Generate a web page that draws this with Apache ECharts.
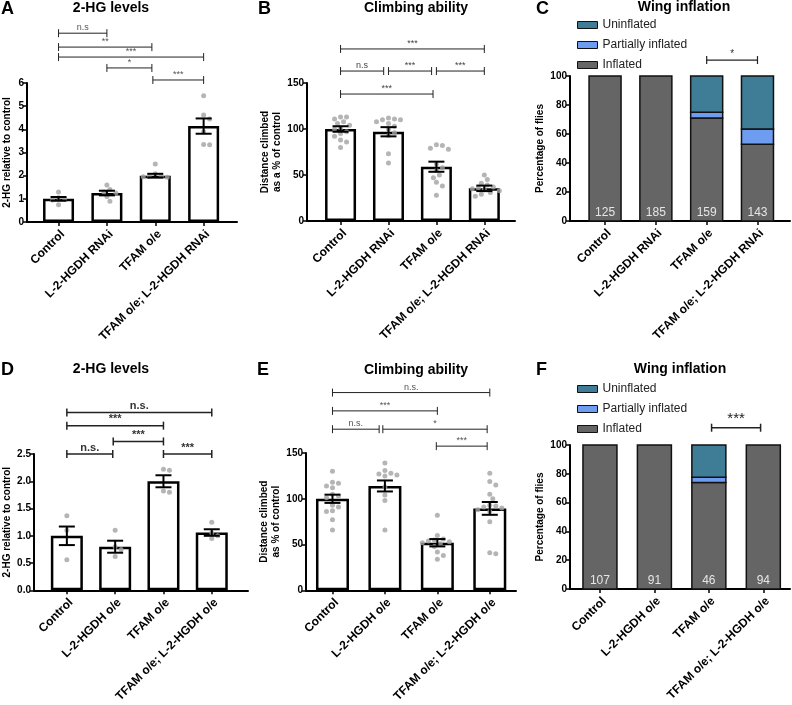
<!DOCTYPE html>
<html>
<head>
<meta charset="utf-8">
<script src="https://cdn.jsdelivr.net/npm/echarts@6/dist/echarts.min.js"></script>
<style>
  html, body { margin: 0; padding: 0; background: #fff; }
  #chart { width: 792px; height: 705px; }
</style>
</head>
<body>
<div id="chart"></div>
<script>
// ---------------- data ----------------
var groupsRNAi = ['Control', 'L-2-HGDH RNAi', 'TFAM o/e', 'TFAM o/e; L-2-HGDH RNAi'];
var groupsOE = ['Control', 'L-2-HGDH o/e', 'TFAM o/e', 'TFAM o/e; L-2-HGDH o/e'];

// A - 2-HG levels (RNAi)
var hgA_mean = [1.0, 1.25, 2.0, 4.14];
var hgA_sem = [0.08, 0.1, 0.08, 0.33];
var hgA_points = [
  [1.3, 1.05, 1.0, 0.95, 0.75],
  [1.6, 1.4, 1.3, 1.25, 1.1, 0.9],
  [2.5, 2.08, 1.98, 1.95, 1.93, 1.95],
  [5.45, 4.62, 4.45, 3.9, 3.35, 3.33]
];
var hgA_sig = [[0, 1, 8.15], [0, 1.93, 7.55], [0, 3, 7.12], [1, 1.93, 6.65], [1.95, 3, 6.13]];
var hgA_sigText = ['n.s', '**', '***', '*', '***'];

// B - climbing (RNAi)
var climbB_mean = [100, 97, 59, 35.5];
var climbB_sem = [3, 5, 5.5, 3];
var climbB_points = [
  [113, 113, 111, 108, 106, 104, 101, 100, 97, 95, 92, 88, 86, 80],
  [112, 111, 110, 110, 108, 106, 103, 100, 96, 93, 73, 63],
  [83, 82, 79, 78, 62, 58, 55, 50, 47, 42, 38, 28],
  [50, 45, 41, 39, 37, 36, 35, 34, 33, 31, 29, 27]
];
var climbB_sig = [[0, 3, 187], [0, 0.9, 163], [1, 1.9, 163], [2, 3, 163], [0, 1.93, 138]];
var climbB_sigText = ['***', 'n.s', '***', '***', '***'];

// C - wing inflation (RNAi), percent of flies
var wingC_inflated = [100, 100, 71, 53];
var wingC_partial = [0, 0, 4, 10.4];
var wingC_uninflated = [0, 0, 25, 36.6];
var wingC_n = [125, 185, 159, 143];
var wingC_sig = [[2, 3, 111]];
var wingC_sigText = ['*'];

// D - 2-HG levels (o/e)
var hgD_mean = [1.0, 0.8, 2.0, 1.06];
var hgD_sem = [0.17, 0.11, 0.11, 0.06];
var hgD_points = [
  [1.37, 1.1, 0.56],
  [1.1, 0.8, 0.75, 0.62],
  [2.22, 2.2, 1.82, 1.8],
  [1.25, 1.05, 1.0, 0.95]
];
var hgD_sig = [[0, 3, 3.26], [0, 2, 3.02], [0.96, 2, 2.73], [0, 0.95, 2.5], [2, 3, 2.5]];
var hgD_sigText = ['n.s.', '***', '***', 'n.s.', '***'];

// E - climbing (o/e)
var climbE_mean = [100, 114, 52, 89.5];
var climbE_sem = [4.5, 6, 4, 7];
var climbE_points = [
  [130, 118, 117, 114, 112, 105, 103, 101, 93, 91, 87, 86, 77, 66],
  [139, 131, 128, 127, 126, 125, 113, 104, 98, 66],
  [82, 60, 56, 55, 54, 53, 52, 51, 48, 42, 38, 34],
  [128, 119, 115, 105, 100, 93, 92, 91, 90, 88, 86, 75, 41, 40]
];
var climbE_sig = [[0, 3, 216], [0, 2, 196], [0, 0.89, 176], [0.96, 2.95, 176], [1.98, 2.95, 157.5]];
var climbE_sigText = ['n.s.', '***', 'n.s.', '*', '***'];

// F - wing inflation (o/e)
var wingF_inflated = [100, 100, 74, 100];
var wingF_partial = [0, 0, 3.6, 0];
var wingF_uninflated = [0, 0, 22.4, 0];
var wingF_n = [107, 91, 46, 94];
var wingF_sig = [[2.05, 2.95, 112]];
var wingF_sigText = ['***'];

// ---------------- layout ----------------
var FONT = '"Liberation Sans", Arial, sans-serif';
var colInflated = '#656565', colPartial = '#6e9cf0', colUninflated = '#3f7c96';

var panels = [
  { kind: 'bar', letter: 'A', lx: 1, ly: 0, title: '2-HG levels', tx: 111, ty: 1,
    grid: { left: 27, top: 83, width: 210, height: 139 }, xMin: -0.652, xMax: 3.69,
    yMax: 6, yInt: 1, barW: 31, cats: groupsRNAi, yName: '2-HG relative to control', nameGap: 14,
    mean: hgA_mean, sem: hgA_sem, points: hgA_points, sig: hgA_sig, sigText: hgA_sigText,
    sigStyle: { fontSize: 9, fontWeight: 'normal', fill: '#555' }, sigW: 1 },
  { kind: 'bar', letter: 'B', lx: 258, ly: 0, title: 'Climbing ability', tx: 416, ty: 1,
    grid: { left: 307, top: 83, width: 208, height: 138 }, xMin: -0.70, xMax: 3.64,
    yMax: 150, yInt: 50, barW: 31, cats: groupsRNAi, yName: 'Distance climbed\nas a % of control', nameGap: 24,
    mean: climbB_mean, sem: climbB_sem, points: climbB_points, sig: climbB_sig, sigText: climbB_sigText,
    sigStyle: { fontSize: 9, fontWeight: 'normal', fill: '#444' }, sigW: 1 },
  { kind: 'wing', letter: 'C', lx: 536, ly: 0, title: 'Wing inflation', tx: 684, ty: 0,
    grid: { left: 570, top: 76, width: 220, height: 145 }, xMin: -0.69, xMax: 3.64,
    yMax: 100, yInt: 20, barW: 32, cats: groupsRNAi, yName: 'Percentage of flies', nameGap: 18,
    inflated: wingC_inflated, partial: wingC_partial, uninflated: wingC_uninflated, n: wingC_n,
    sig: wingC_sig, sigText: wingC_sigText, legendTop: 14,
    sigStyle: { fontSize: 10, fontWeight: 'normal', fill: '#333' }, sigW: 1.2 },
  { kind: 'bar', letter: 'D', lx: 1, ly: 361, title: '2-HG levels', tx: 111, ty: 362,
    grid: { left: 33, top: 454, width: 215, height: 139 }, xMin: -0.68, xMax: 3.75,
    yMax: 2.5, yInt: 0.5, barW: 32, cats: groupsOE, yName: '2-HG relative to control', nameGap: 21,
    mean: hgD_mean, sem: hgD_sem, points: hgD_points, sig: hgD_sig, sigText: hgD_sigText,
    sigStyle: { fontSize: 11, fontWeight: 'bold', fill: '#333' }, sigW: 1.5 },
  { kind: 'bar', letter: 'E', lx: 257, ly: 361, title: 'Climbing ability', tx: 416, ty: 363,
    grid: { left: 306, top: 453, width: 210, height: 139 }, xMin: -0.505, xMax: 3.50,
    yMax: 150, yInt: 50, barW: 33, cats: groupsOE, yName: 'Distance climbed\nas % of control', nameGap: 24,
    mean: climbE_mean, sem: climbE_sem, points: climbE_points, sig: climbE_sig, sigText: climbE_sigText,
    sigStyle: { fontSize: 9, fontWeight: 'normal', fill: '#555' }, sigW: 1 },
  { kind: 'wing', letter: 'F', lx: 536, ly: 361, title: 'Wing inflation', tx: 680, ty: 362,
    grid: { left: 570, top: 445, width: 220, height: 144 }, xMin: -0.55, xMax: 3.49,
    yMax: 100, yInt: 20, barW: 34, cats: groupsOE, yName: 'Percentage of flies', nameGap: 24,
    inflated: wingF_inflated, partial: wingF_partial, uninflated: wingF_uninflated, n: wingF_n,
    sig: wingF_sig, sigText: wingF_sigText, legendTop: 378,
    sigStyle: { fontSize: 15, fontWeight: 'normal', fill: '#222' }, sigW: 1.5 }
];

// spread dots sideways so they don't overlap (beeswarm, in pixels)
function swarm(vals, pxX, pxY) {
  var placed = [], out = [], d = 5.2;
  vals.forEach(function (v) {
    var y = v * pxY, off = 0;
    for (var k = 0; k < 40; k++) {
      var cand = (k % 2 ? 1 : -1) * Math.ceil(k / 2) * 3;
      var ok = placed.every(function (p) {
        var dx = p[0] - cand, dy = p[1] - y;
        return dx * dx + dy * dy >= d * d;
      });
      if (ok) { off = cand; break; }
    }
    placed.push([off, y]);
    out.push(off / pxX);
  });
  return out;
}

var option = {
  animation: false,
  backgroundColor: '#fff',
  textStyle: { fontFamily: FONT },
  grid: [], xAxis: [], yAxis: [], series: [], legend: [], graphic: []
};

panels.forEach(function (P, i) {
  option.grid.push(P.grid);
  option.xAxis.push({
    gridIndex: i, type: 'value', min: P.xMin, max: P.xMax,
    splitLine: { show: false },
    axisLine: { onZero: false, lineStyle: { color: '#000', width: 2 } },
    axisTick: { customValues: [0, 1, 2, 3], length: 4, lineStyle: { color: '#000', width: 1.5 } },
    axisLabel: {
      customValues: [0, 1, 2, 3], rotate: 45, margin: 6, verticalAlign: 'top',
      fontFamily: FONT, fontWeight: 'bold', fontSize: 12, color: '#000',
      formatter: function (v) { return P.cats[Math.round(v)]; }
    }
  });
  option.yAxis.push({
    gridIndex: i, type: 'value', min: 0, max: P.yMax, interval: P.yInt,
    name: P.yName, nameLocation: 'middle', nameGap: P.nameGap,
    nameTextStyle: { fontFamily: FONT, fontWeight: 'bold', fontSize: 10, color: '#000', lineHeight: 12 },
    splitLine: { show: false },
    axisLine: { show: true, onZero: false, lineStyle: { color: '#000', width: 2 } },
    axisTick: { show: true, length: 4, lineStyle: { color: '#000', width: 1.5 } },
    axisLabel: {
      fontFamily: FONT, fontWeight: 'bold', fontSize: 10, color: '#000', margin: 3,
      formatter: function (v) { return P.yInt < 1 ? v.toFixed(1) : String(v); }
    }
  });

  option.graphic.push({
    type: 'text', x: P.lx, y: P.ly, z: 10,
    style: { text: P.letter, fontFamily: FONT, fontWeight: 'bold', fontSize: 18, fill: '#000' }
  });
  option.graphic.push({
    type: 'text', x: P.tx, y: P.ty, z: 10,
    style: { text: P.title, align: 'center', textAlign: 'center', fontFamily: FONT, fontWeight: 'bold', fontSize: 14, fill: '#000' }
  });

  var pxX = P.grid.width / (P.xMax - P.xMin), pxY = P.grid.height / P.yMax;

  if (P.kind === 'bar') {
    option.series.push({
      type: 'bar', xAxisIndex: i, yAxisIndex: i, barWidth: P.barW, z: 2,
      itemStyle: { color: '#fff', borderColor: '#000', borderWidth: 2.5 },
      data: P.mean.map(function (m, k) { return [k, m]; })
    });
    var dots = [];
    P.points.forEach(function (vals, k) {
      var offs = swarm(vals, pxX, pxY);
      vals.forEach(function (v, j) { dots.push([k + offs[j], v]); });
    });
    option.series.push({
      type: 'scatter', xAxisIndex: i, yAxisIndex: i, z: 3, symbolSize: 5,
      itemStyle: { color: '#a3a3a3' }, data: dots
    });
    option.series.push({
      type: 'custom', xAxisIndex: i, yAxisIndex: i, z: 4, clip: false,
      encode: { x: 0, y: [1, 2] },
      data: P.mean.map(function (m, k) { return [k, m - P.sem[k], m + P.sem[k]]; }),
      renderItem: function (params, api) {
        var lo = api.coord([api.value(0), api.value(1)]);
        var hi = api.coord([api.value(0), api.value(2)]);
        var hw = 8, st = { stroke: '#000', lineWidth: 2 };
        return { type: 'group', children: [
          { type: 'line', shape: { x1: lo[0], y1: lo[1], x2: hi[0], y2: hi[1] }, style: st },
          { type: 'line', shape: { x1: hi[0] - hw, y1: hi[1], x2: hi[0] + hw, y2: hi[1] }, style: st },
          { type: 'line', shape: { x1: lo[0] - hw, y1: lo[1], x2: lo[0] + hw, y2: lo[1] }, style: st }
        ] };
      }
    });
  } else {
    // stacked segments: each segment drawn from its running base
    var segs = [
      { name: 'Inflated', vals: P.inflated, color: colInflated },
      { name: 'Partially inflated', vals: P.partial, color: colPartial },
      { name: 'Uninflated', vals: P.uninflated, color: colUninflated }
    ];
    var base = [0, 0, 0, 0];
    segs.forEach(function (s, si) {
      var rows = s.vals.map(function (v, k) { var r = [k, base[k], base[k] + v]; base[k] += v; return r; });
      option.series.push({
        name: s.name, type: 'custom', xAxisIndex: i, yAxisIndex: i, z: 2 + si * 0.1, clip: false,
        itemStyle: { color: s.color },
        encode: { x: 0, y: [1, 2] },
        data: rows,
        renderItem: function (params, api) {
          var lo = api.coord([api.value(0), api.value(1)]);
          var hi = api.coord([api.value(0), api.value(2)]);
          if (hi[1] >= lo[1] - 0.01) return null;
          var w = P.barW;
          var kids = [{
            type: 'rect',
            shape: { x: lo[0] - w / 2, y: hi[1], width: w, height: lo[1] - hi[1] },
            style: { fill: s.color, stroke: '#111', lineWidth: 1.5 }
          }];
          if (si === 0) {
            kids.push({ type: 'text', style: {
              x: lo[0], y: lo[1] - 2, text: String(P.n[params.dataIndex]),
              align: 'center', verticalAlign: 'bottom',
              fontFamily: FONT, fontSize: 12, fill: '#e6e6e6'
            } });
          }
          return { type: 'group', children: kids };
        }
      });
    });
    option.legend.push({
      orient: 'vertical', left: 572, top: P.legendTop, itemWidth: 20, itemHeight: 7, itemGap: 8,
      icon: 'rect', selectedMode: false,
      itemStyle: { borderColor: '#111', borderWidth: 1 },
      textStyle: { fontFamily: FONT, fontSize: 12, color: '#222' },
      data: ['Uninflated', 'Partially inflated', 'Inflated']
    });
  }

  // significance brackets
  option.series.push({
    type: 'custom', xAxisIndex: i, yAxisIndex: i, z: 5, clip: false, silent: true,
    encode: { x: [0, 1], y: 2 },
    data: P.sig,
    renderItem: function (params, api) {
      var a = api.coord([api.value(0), api.value(2)]);
      var b = api.coord([api.value(1), api.value(2)]);
      var st = { stroke: '#222', lineWidth: P.sigW }, t = 4;
      return { type: 'group', children: [
        { type: 'line', shape: { x1: a[0], y1: a[1], x2: b[0], y2: b[1] }, style: st },
        { type: 'line', shape: { x1: a[0], y1: a[1] - t, x2: a[0], y2: a[1] + t }, style: st },
        { type: 'line', shape: { x1: b[0], y1: b[1] - t, x2: b[0], y2: b[1] + t }, style: st },
        { type: 'text', style: {
          x: (a[0] + b[0]) / 2, y: a[1] - 1, text: P.sigText[params.dataIndex],
          align: 'center', verticalAlign: 'bottom',
          fontFamily: FONT, fontSize: P.sigStyle.fontSize, fontWeight: P.sigStyle.fontWeight, fill: P.sigStyle.fill
        } }
      ] };
    }
  });
});

var chart = echarts.init(document.getElementById('chart'), null, { renderer: 'canvas' });
chart.setOption(option);
</script>
</body>
</html>
